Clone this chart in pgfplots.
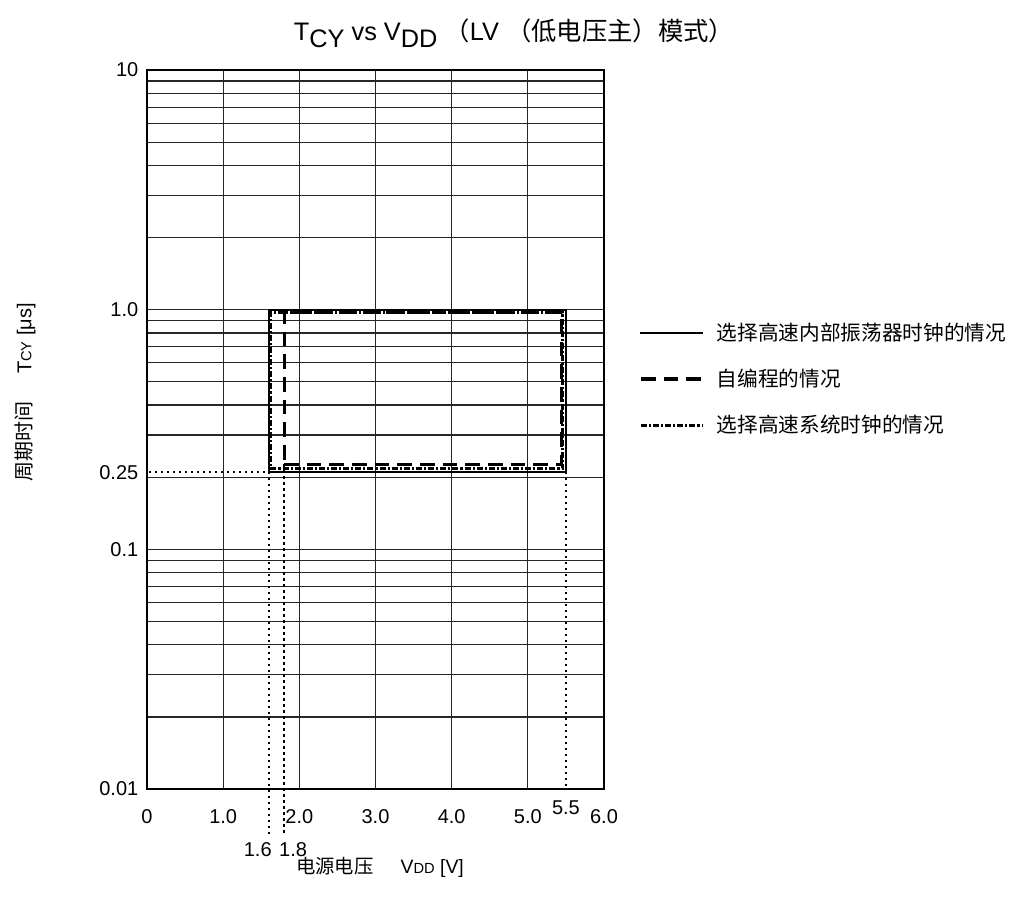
\documentclass[border=0pt]{standalone}
\usepackage{fontspec}
\setmainfont{Liberation Sans}
\newfontfamily\cjk{Noto Sans CJK SC}
\usepackage{pgfplots}
\pgfplotsset{compat=1.18}
\begin{document}
\begin{tikzpicture}
\path[use as bounding box] (-110.25pt,-82.5pt) rectangle (651.75pt,591.75pt);
\begin{axis}[
  scale only axis, width=342.75pt, height=539.25pt,
  at={(0,0)}, anchor=south west,
  xmin=0, xmax=6, ymin=0.01, ymax=10, ymode=log,
  xtick={0,1,2,3,4,5,6}, xticklabels={0,1.0,2.0,3.0,4.0,5.0,6.0},
  ytick={0.01,0.1,1,10}, yticklabels={0.01,0.1,1.0,10},
  minor ytick={0.02,0.03,0.04,0.05,0.06,0.07,0.08,0.09,0.2,0.3,0.4,0.5,0.6,0.7,0.8,0.9,2,3,4,5,6,7,8,9},
  extra y ticks={0.21}, extra y tick labels={0.25},
  extra tick style={grid=none},
  major tick length=0pt, minor tick length=0pt,
  grid=both,
  major grid style={black!85, line width=0.95pt},
  minor grid style={black!85, line width=0.95pt},
  axis line style={line width=2.2pt},
  clip=false,
  tick label style={font=\fontsize{15}{18}\selectfont},
  xticklabel style={yshift=-11.7pt},
  yticklabel style={xshift=-3pt},
  legend style={draw=none, fill=none, at={(1.068,0.652)}, anchor=north west,
    row sep=20pt, font=\fontsize{15.5}{18}\selectfont\cjk,
    nodes={inner sep=0pt, anchor=west},
    /tikz/every odd column/.append style={column sep=10pt}},
  legend cell align=left,
  legend image code/.code={\draw[#1] (0pt,0pt) -- (45.75pt,0pt);},
]
\addplot[black, line width=1.5pt, line cap=rect, line join=miter] coordinates {(1.6,0.21) (5.5,0.21) (5.5,1) (1.6,1) (1.6,0.21)};
\addlegendentry{选择高速内部振荡器时钟的情况}
\addplot[black, line width=2.3pt, dash pattern=on 11pt off 6pt] coordinates {(1.8,0.226) (5.44,0.226) (5.44,0.972) (1.8,0.972) (1.8,0.226)};
\addlegendentry{自编程的情况}
\addplot[black, line width=2.1pt, dash pattern=on 4.5pt off 1.5pt on 1.6pt off 1.5pt] coordinates {(1.62,0.2166) (5.46,0.2166) (5.46,0.976) (1.62,0.976) (1.62,0.2166)};
\addlegendentry{选择高速系统时钟的情况}
\addplot[black, line width=1.6pt, dash pattern=on 1.6pt off 2.9pt, forget plot] coordinates {(0.03,0.21) (1.6,0.21)};
\addplot[black, line width=1.6pt, dash pattern=on 1.6pt off 2.9pt, forget plot] coordinates {(1.6,0.21) (1.6,0.0064)};
\addplot[black, line width=1.6pt, dash pattern=on 1.6pt off 2.9pt, forget plot] coordinates {(1.8,0.226) (1.8,0.0064)};
\addplot[black, line width=1.6pt, dash pattern=on 1.6pt off 2.9pt, forget plot] coordinates {(5.5,0.21) (5.5,0.01)};
\node[anchor=north, inner sep=0pt, yshift=-8.3pt, font=\fontsize{15}{18}\selectfont] at (axis cs:5.5,0.01) {5.5};
\node[anchor=east, inner sep=0pt, xshift=2.3pt, font=\fontsize{15}{18}\selectfont] at (axis cs:1.6,0.00556) {1.6};
\node[anchor=west, inner sep=0pt, xshift=-3.9pt, font=\fontsize{15}{18}\selectfont] at (axis cs:1.8,0.00556) {1.8};
\node[font=\fontsize{19}{22}\selectfont] at (rel axis cs:0.803,1.051) {T\raisebox{-0.3em}{CY} vs V\raisebox{-0.3em}{DD} {\cjk （}LV {\cjk （低电压主）模式）}};
\node[font=\fontsize{14.5}{17}\selectfont] at (rel axis cs:0.51,-0.1085) {{\cjk 电源电压}\hspace{1.4em}V{\fontsize{11}{13}\selectfont DD} [V]};
\node[font=\fontsize{15}{17}\selectfont, rotate=90] at (rel axis cs:-0.267,0.5515) {{\cjk 周期时间}\hspace{1.4em}T{\fontsize{11}{13}\selectfont CY} [μs]};
\end{axis}
\end{tikzpicture}
\end{document}
